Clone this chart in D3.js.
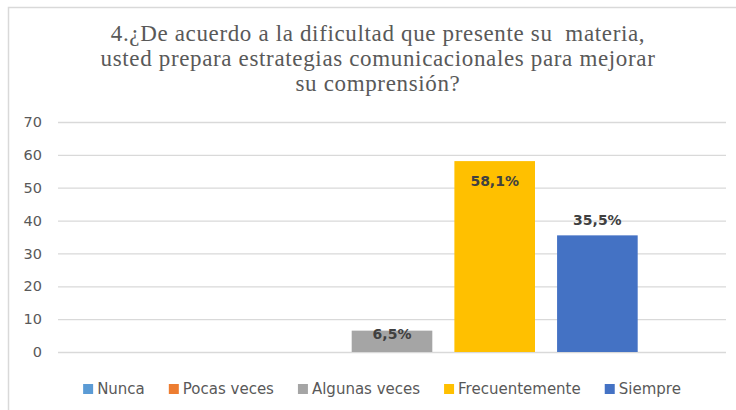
<!DOCTYPE html>
<html>
<head>
<meta charset="utf-8">
<script src="https://cdn.jsdelivr.net/npm/d3@7"></script>
<style>
  html, body { margin: 0; padding: 0; background: #fff; }
  svg { display: block; }
</style>
</head>
<body>
<div id="chart"></div>
<script>
const titleLines = [
  "4.¿De acuerdo a la dificultad que presente su  materia,",
  "usted prepara estrategias comunicacionales para mejorar",
  "su comprensión?"
];
const seriesNames = ["Nunca", "Pocas veces", "Algunas veces", "Frecuentemente", "Siempre"];
const seriesValues = [0, 0, 6.5, 58.1, 35.5];
const seriesLabels = ["", "", "6,5%", "58,1%", "35,5%"];
const seriesColors = ["#5B9BD5", "#ED7D31", "#A5A5A5", "#FFC000", "#4472C4"];
const yTicks = [0, 10, 20, 30, 40, 50, 60, 70];

const W = 736, H = 410;
const plot = { left: 58, right: 726, top: 122, bottom: 352 };
const sansFont = "'DejaVu Sans', Verdana, sans-serif";

const data = seriesNames.map((name, i) => ({
  name, value: seriesValues[i], label: seriesLabels[i], color: seriesColors[i]
}));

const svg = d3.select("#chart").append("svg")
  .attr("width", W)
  .attr("height", H);

// chart area border
svg.append("rect")
  .attr("x", 8.5).attr("y", 7.5)
  .attr("width", 760).attr("height", 410)
  .attr("fill", "#fff")
  .attr("stroke", "#D9D9D9")
  .attr("stroke-width", 1.5);

// title
svg.append("g")
  .selectAll("text")
  .data(titleLines)
  .join("text")
  .attr("x", 378)
  .attr("y", (d, i) => 41 + i * 25)
  .attr("text-anchor", "middle")
  .style("white-space", "pre")
  .style("letter-spacing", "0.65px")
  .attr("font-family", "'Liberation Serif', 'Times New Roman', serif")
  .attr("font-size", 23)
  .attr("fill", "#595959")
  .text(d => d);

const y = d3.scaleLinear()
  .domain([0, 70])
  .range([plot.bottom, plot.top]);

const x = d3.scaleBand()
  .domain(seriesNames)
  .range([plot.left, plot.right])
  .paddingInner(0.215)
  .paddingOuter(0.86);

// gridlines + y labels
const yAxis = d3.axisLeft(y)
  .tickValues(yTicks)
  .tickSize(-(plot.right - plot.left))
  .tickPadding(16)
  .tickFormat(d3.format("d"));

const yAxisG = svg.append("g")
  .attr("transform", `translate(${plot.left},0)`)
  .call(yAxis);
yAxisG.select(".domain").remove();
yAxisG.selectAll(".tick line")
  .attr("stroke", "#D9D9D9")
  .attr("stroke-width", 1.3);
yAxisG.selectAll(".tick text")
  .attr("fill", "#595959")
  .attr("font-family", sansFont)
  .attr("font-size", 14.5);

// bars
svg.append("g")
  .selectAll("rect")
  .data(data.filter(d => d.value > 0))
  .join("rect")
  .attr("x", d => x(d.name))
  .attr("y", d => y(d.value))
  .attr("width", x.bandwidth())
  .attr("height", d => y(0) - y(d.value))
  .attr("fill", d => d.color);

// data labels
const labelOffset = { "Algunas veces": 3, "Frecuentemente": 20, "Siempre": -15 };
svg.append("g")
  .selectAll("text")
  .data(data.filter(d => d.label))
  .join("text")
  .attr("x", d => x(d.name) + x.bandwidth() / 2)
  .attr("y", d => y(d.value) + labelOffset[d.name])
  .attr("dy", "0.36em")
  .attr("text-anchor", "middle")
  .attr("font-family", sansFont)
  .attr("font-weight", "bold")
  .attr("font-size", 14)
  .attr("fill", "#404040")
  .text(d => d.label);

// legend
const legend = svg.append("g").attr("class", "legend");
const sw = 10, swGap = 4, itemGap = 24, legendY = 389;
const items = legend.selectAll("g")
  .data(data)
  .join("g");
items.append("rect")
  .attr("width", sw).attr("height", sw)
  .attr("y", legendY - sw / 2)
  .attr("fill", d => d.color);
items.append("text")
  .attr("x", sw + swGap)
  .attr("y", legendY)
  .attr("dy", "0.36em")
  .attr("font-family", sansFont)
  .attr("font-size", 15)
  .attr("fill", "#595959")
  .text(d => d.name);

let cursor = 0;
items.each(function () {
  const g = d3.select(this);
  g.attr("transform", `translate(${cursor},0)`);
  cursor += sw + swGap + g.select("text").node().getComputedTextLength() + itemGap;
});
const legendWidth = cursor - itemGap;
legend.attr("transform", `translate(${382 - legendWidth / 2},0)`);
</script>
</body>
</html>
